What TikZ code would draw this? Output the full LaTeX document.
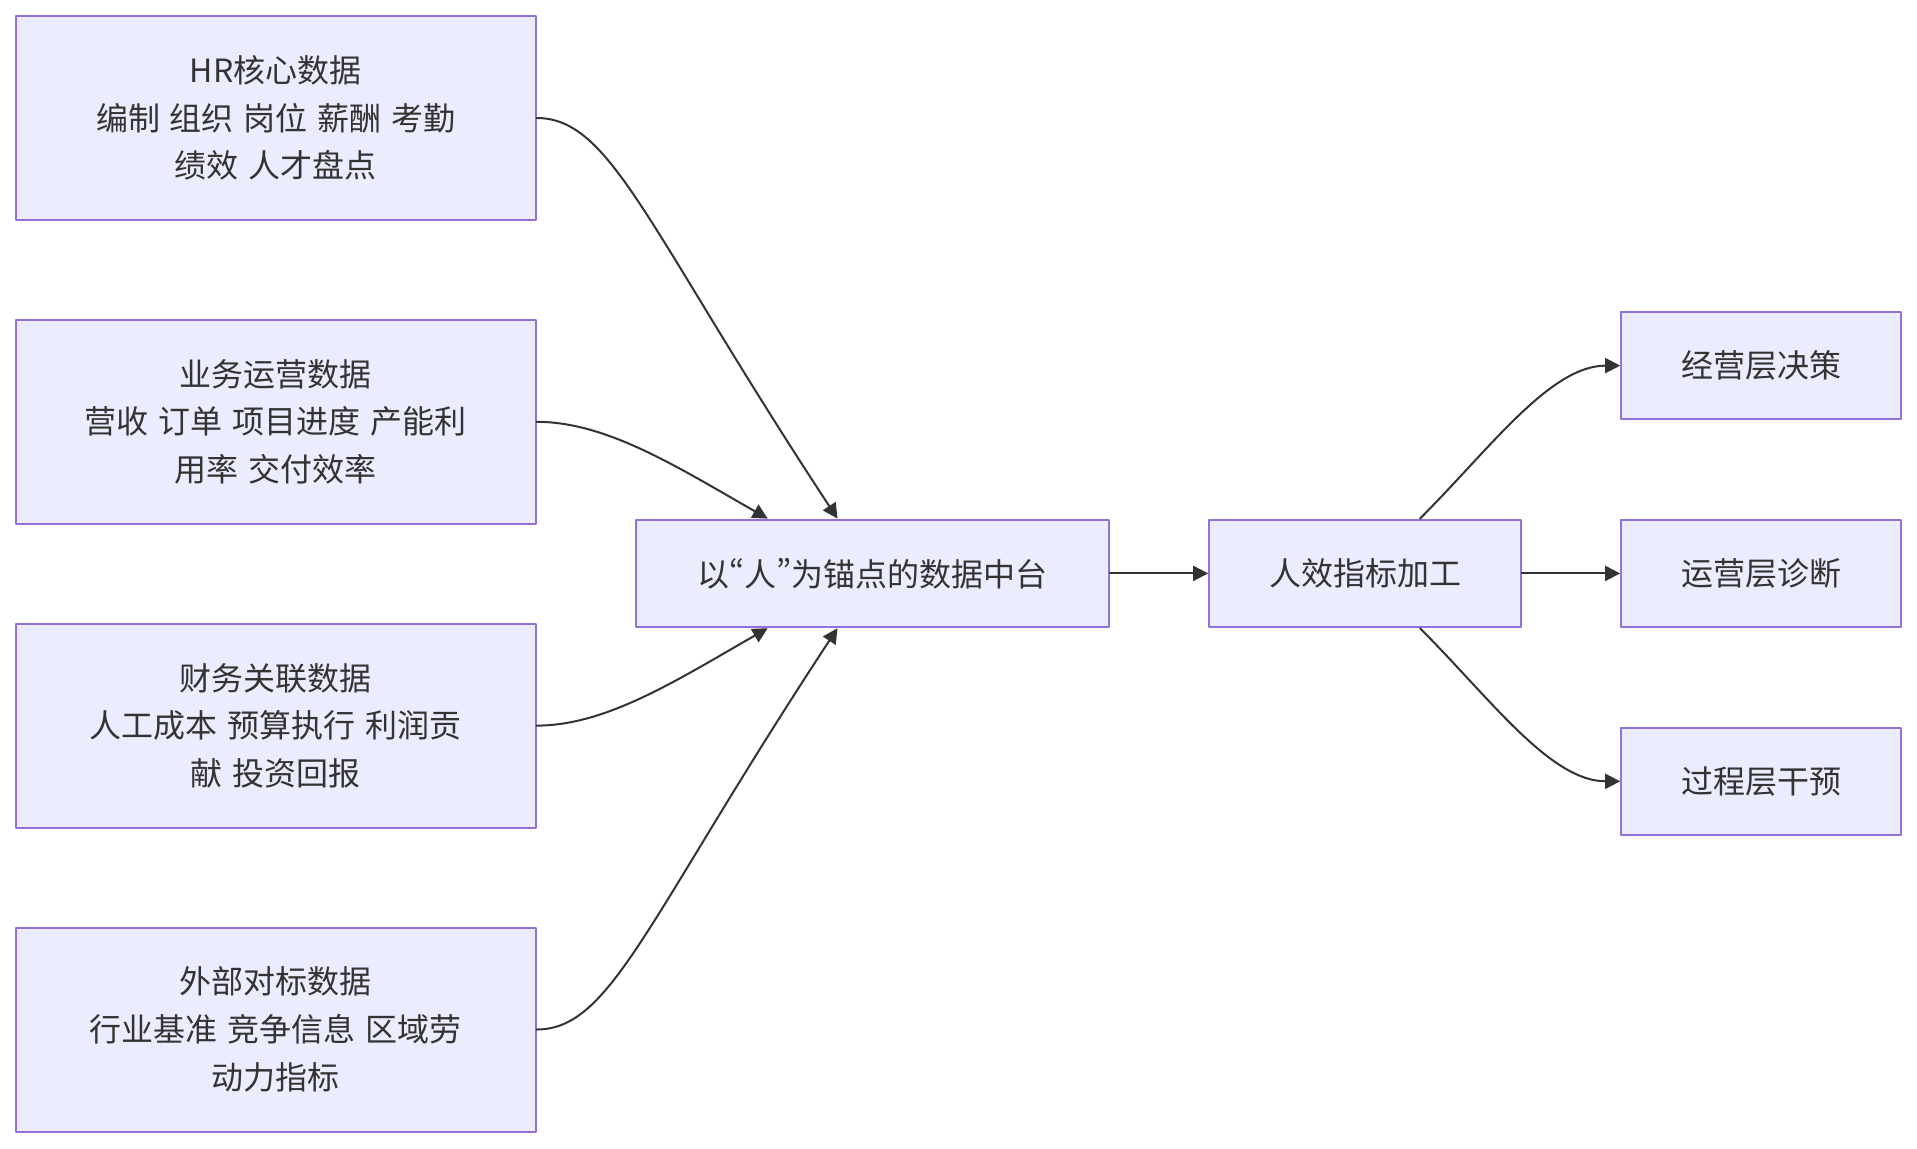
\documentclass[tikz,border=0pt]{standalone}
\usepackage{fontspec}
\usepackage{xcolor}
\usepackage{tikz}
\usetikzlibrary{arrows.meta,positioning}
\newfontfamily\cjk[WordSpace=1.37]{Noto Sans CJK SC}
\newfontfamily\cjkquote[RawFeature=+pwid]{Noto Sans CJK SC}
\newcommand{\hrlq}{{\cjkquote “}}
\newcommand{\hrrq}{{\cjkquote ”}}
\definecolor{hrFill}{HTML}{ECECFF}
\definecolor{hrBorder}{HTML}{9370DB}
\definecolor{hrInk}{HTML}{333333}
\tikzset{
  hr diagram/.style={font=\cjk\fontsize{16pt}{23.85pt}\selectfont, text=hrInk,
    line cap=round, line join=round},
  hr box/.style={draw=hrBorder, fill=hrFill, line width=1pt,
    align=center, inner sep=4pt, minimum height=53.8pt},
  hr source/.style={hr box, minimum width=259.8pt, minimum height=102pt},
  hr out/.style={hr box, minimum width=140pt},
  hr arrow/.style={-{Triangle[length=7.5pt, width=7.5pt]}, draw=hrInk, line width=1pt}
}
\begin{document}
\begin{tikzpicture}[hr diagram, x=0.5pt, y=-0.5pt]
\useasboundingbox (0,0) rectangle (1917,1148);
% data sources
\node[hr source] (src1) at (275.7,118) {HR核心数据\\编制 组织 岗位 薪酬 考勤\\绩效 人才盘点};
\node[hr source] (src2) at (275.7,421.8) {业务运营数据\\营收 订单 项目进度 产能利\\用率 交付效率};
\node[hr source] (src3) at (275.7,725.6) {财务关联数据\\人工成本 预算执行 利润贡\\献 投资回报};
\node[hr source] (src4) at (275.7,1029.5) {外部对标数据\\行业基准 竞争信息 区域劳\\动力指标};
% middle
\node[hr box, minimum width=236.5pt] (hub) at (872.3,573.4) {以\hrlq 人\hrrq 为锚点的数据中台};
\node[hr box, minimum width=155.8pt] (proc) at (1365,573.4) {人效指标加工};
% outputs
\node[hr out] (out1) at (1761.2,365.6) {经营层决策};
\node[hr out] (out2) at (1761.2,573.4) {运营层诊断};
\node[hr out] (out3) at (1761.2,781.3) {过程层干预};
% connectors
\draw[hr arrow] (src1.east) .. controls +(75,0) and +(-192,-292) .. ([xshift=-17.4pt]hub.north);
\draw[hr arrow] (src2.east) .. controls +(70,0) and +(-91,-52) .. ([xshift=-52.3pt]hub.north);
\draw[hr arrow] (src3.east) .. controls +(70,0) and +(-91,52) .. ([xshift=-52.3pt]hub.south);
\draw[hr arrow] (src4.east) .. controls +(75,0) and +(-192,292) .. ([xshift=-17.4pt]hub.south);
\draw[hr arrow] (hub.east) -- (proc.west);
\draw[hr arrow] ([xshift=27.5pt]proc.north) .. controls +(70,-70) and +(-70,0) .. (out1.west);
\draw[hr arrow] (proc.east) -- (out2.west);
\draw[hr arrow] ([xshift=27.5pt]proc.south) .. controls +(70,70) and +(-70,0) .. (out3.west);
\end{tikzpicture}
\end{document}
